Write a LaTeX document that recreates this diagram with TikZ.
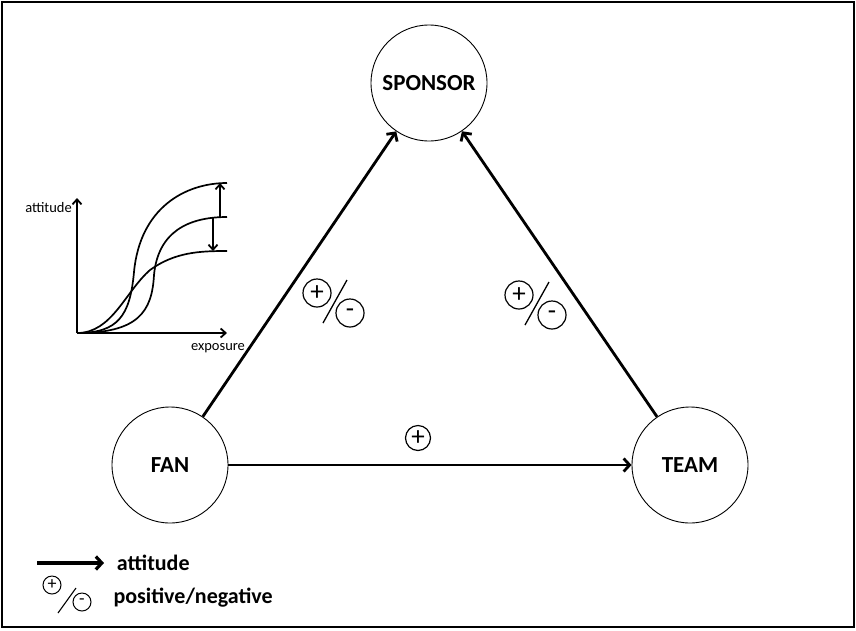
\documentclass[tikz,border=0pt]{standalone}
\usepackage{fontspec}
\setmainfont{Carlito}
\usetikzlibrary{arrows.meta}
\tikzset{
  party/.style={draw, circle, minimum size=116pt, inner sep=0pt, line width=0.9pt, fill=white,
    font=\fontsize{23}{27}\selectfont\bfseries},
  att/.style={line width=2.8pt, -{Straight Barb[length=6pt,width=13pt]}},
  ax/.style={line width=1.8pt, -{Straight Barb[length=5pt,width=9pt]}},
  sign/.style={draw, circle, minimum size=28pt, inner sep=0pt, line width=1.2pt,
    font=\fontsize{27}{27}\selectfont},
  smallsign/.style={sign, minimum size=18pt, line width=1pt, font=\fontsize{18}{18}\selectfont},
  posneg/.pic={
    \node[sign] (-p) at (-16,-9) {+};
    \node[sign] (-m) at (17,11) {-};
    \draw[line width=1.3pt] (-10,21) -- (14,-22);
  },
}
\begin{document}
\begin{tikzpicture}[x=1pt,y=-1pt]
  \useasboundingbox (0,0) rectangle (856,630);
  \draw[line width=2.5pt] (2,2) rectangle (854,627);

  % 三者
  \node[party] (spon) at (429,83) {SPONSOR};
  \node[party] (fan)  at (170,465) {FAN};
  \node[party] (team) at (690,465) {TEAM};

  \draw[att] (fan) -- (spon);
  \draw[att] (team) -- (spon);
  \draw[att] (fan) -- (team);

  \pic (fs) at (333,302) {posneg};
  \pic (ts) at (535,304) {posneg};
  \node[sign, minimum size=25pt] (ft) at (418,438) {+};

  % 小さいグラフ
  \coordinate (o) at (77,333);
  \draw[ax] (o) -- (77,198);
  \node[anchor=east, font=\fontsize{14.5}{14.5}\selectfont, inner sep=0pt] (yl) at (72,208) {attitude};
  \draw[ax] (o) -- (227,333);
  \node[font=\fontsize{14.5}{14.5}\selectfont, inner sep=0pt] (xl) at (218,348) {exposure};

  \coordinate (t) at (227,183);
  \coordinate (m) at (227,217);
  \coordinate (b) at (227,251);
  \draw[line width=1.7pt] (o) .. controls (118,333) and (130,316) .. (134,272)
                             .. controls (140,208) and (185,183) .. (t);
  \draw[line width=1.7pt] (o) .. controls (138,333) and (152,312) .. (154,275)
                             .. controls (158,232) and (188,217) .. (m);
  \draw[line width=1.7pt] (o) .. controls (112,333) and (125,292) .. (150,270)
                             .. controls (175,252) and (200,251) .. (b);
  \draw[ax] (220,217) -- (220,183);
  \draw[ax] (213,217) -- (213,251);

  % 凡例
  \coordinate (la) at (37,563);
  \draw[att, line width=3.2pt] (la) -- (104,563) node[right, black, font=\fontsize{22}{22}\selectfont\bfseries, xshift=8pt] (lt) {attitude};
  \node[smallsign] (lp) at (52,585) {+};
  \node[smallsign] (lm) at (82,602) {-};
  \draw[line width=1.1pt] (58,613) -- (76,588);
  \node[right, font=\fontsize{22}{22}\selectfont\bfseries] (ln) at (110,598) {positive/negative};
\end{tikzpicture}
\end{document}
